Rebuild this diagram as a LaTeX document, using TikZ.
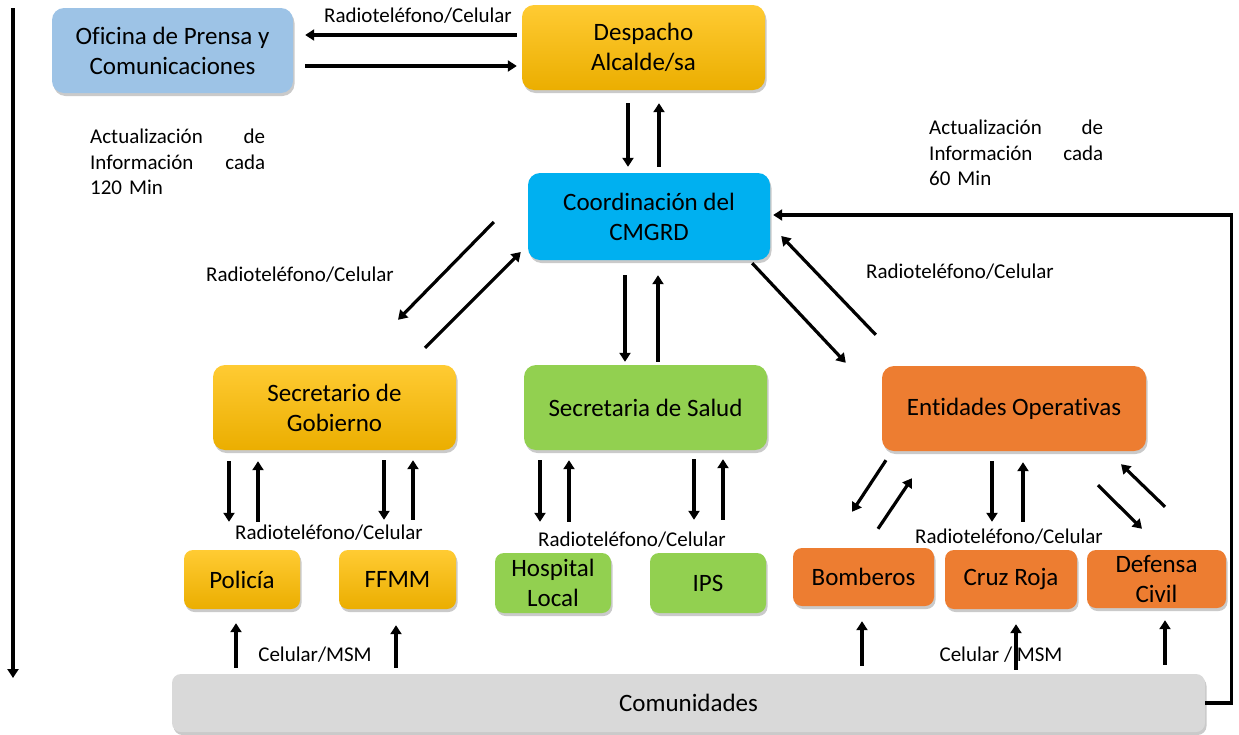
\documentclass[tikz,border=0pt]{standalone}
\usepackage{fontspec}
\setmainfont{Carlito}[Ligatures=NoCommon]
\usepackage{tikz}
\usetikzlibrary{arrows.meta}
\usetikzlibrary{calc}
\usetikzlibrary{shadows}

\definecolor{prensa}{HTML}{9DC3E6}
\definecolor{orotop}{HTML}{FFCB33}
\definecolor{orobot}{HTML}{EBAE00}
\definecolor{celeste}{HTML}{00B0F0}
\definecolor{verde}{HTML}{92D050}
\definecolor{naranja}{HTML}{ED7D31}
\definecolor{gris}{HTML}{D9D9D9}

\begin{document}
\begin{tikzpicture}[x=1pt,y=-1pt,
    caja/.style={rounded corners=12pt, inner sep=0pt, align=center,
        font=\fontsize{25}{30}\selectfont,
        drop shadow={opacity=0.35, fill=black!60, shadow xshift=1.5pt, shadow yshift=-3pt}},
    grande/.style={caja, minimum width=243pt, minimum height=85pt},
    chica/.style={caja, rounded corners=9pt, minimum width=116pt, minimum height=59pt},
    amarilla/.style={top color=orotop, bottom color=orobot},
    flecha/.style={line width=3.2pt, -{Triangle[length=9pt,width=11pt]}},
    etiqueta/.style={font=\fontsize{21}{25.5}\selectfont, inner sep=0pt},
    bloque/.style={etiqueta, text width=175pt, align=left, anchor=north west}]
        \useasboundingbox (0,0) rectangle (1239,734);

        % cajas
        \node[grande, fill=prensa, minimum width=241pt] (ofi) at (172.5,50.5) {Oficina de Prensa y\\Comunicaciones};
        \node[grande, amarilla] (desp) at (643.5,47.5) {Despacho\\Alcalde/sa};
        \node[grande, fill=celeste, minimum width=242pt, minimum height=87pt] (coord) at (649,216.5) {Coordinación del\\CMGRD};
        \node[grande, amarilla] (gob) at (334.5,407.5) {Secretario de\\Gobierno};
        \node[grande, fill=verde] (salud) at (645.5,407.5) {Secretaria de Salud};
        \node[grande, fill=naranja, minimum width=264pt] (ent) at (1014,408.5) {Entidades Operativas};
        \node[chica, amarilla] (pol) at (242,579.5) {Policía};
        \node[chica, amarilla, minimum width=117pt] (ffmm) at (397.5,579.5) {FFMM};
        \node[chica, fill=verde, minimum height=60pt] (hosp) at (553,583) {Hospital\\Local};
        \node[chica, fill=verde, minimum height=60pt] (ips) at (708,583) {IPS};
        \node[chica, fill=naranja, minimum width=141pt, minimum height=58pt] (bomb) at (863.5,577) {Bomberos};
        \node[chica, fill=naranja, minimum width=132pt] (cruz) at (1011,579.5) {Cruz Roja};
        \node[chica, fill=naranja, minimum width=139pt, minimum height=58pt] (def) at (1156.5,579) {Defensa\\Civil};
        \node[caja, fill=gris, rounded corners=9pt, minimum width=1033pt, minimum height=58pt] (com) at (688.5,703) {Comunidades};

        % textos
        \node[etiqueta] (r1) at (418,16) {Radioteléfono/Celular};
        \node[etiqueta] (r2) at (300,275) {Radioteléfono/Celular};
        \node[etiqueta] (r3) at (960,272) {Radioteléfono/Celular};
        \node[etiqueta] (r4) at (329,533) {Radioteléfono/Celular};
        \node[etiqueta] (r5) at (632,540) {Radioteléfono/Celular};
        \node[etiqueta] (r6) at (1009,537) {Radioteléfono/Celular};
        \node[etiqueta] (c1) at (315,655) {Celular/MSM};
        \node[etiqueta] (c2) at (1001,655) {Celular / MSM};
        \node[bloque] (act1) at (90,129) {Actualización\hfill de\\Información\hfill cada\\120 Min};
        \node[bloque, text width=174pt] (act2) at (929,120) {Actualización\hfill de\\Información\hfill cada\\60 Min};

        % despacho - prensa
        \draw[flecha] ($(desp.west)+(-5,-12.5)$) -- ($(ofi.east)+(12,-15.5)$);
        \draw[flecha] ($(ofi.east)+(12,15.5)$) -- ($(desp.west)+(-5,18.5)$);
        % despacho - coordinacion
        \draw[flecha] ($(desp.south)+(-15.5,13)$) -- ($(coord.north)+(-21,-6)$);
        \draw[flecha] ($(coord.north)+(10,-6)$) -- ($(desp.south)+(15.5,13)$);
        % coordinacion - secretarias
        \draw[flecha] ($(coord.west)+(-34,5.5)$) -- ($(gob.north)+(63.5,-45)$);
        \draw[flecha] ($(gob.north)+(90.5,-17)$) -- ($(coord.west)+(-7,35.5)$);
        \draw[flecha] ($(coord.south)+(-24,15)$) -- ($(salud.north)+(-20.5,-3)$);
        \draw[flecha] ($(salud.north)+(12.5,-3)$) -- ($(coord.south)+(9,15)$);
        \draw[flecha] ($(coord.south east)+(-18,3)$) -- ($(ent.north west)+(-36,-3)$);
        \draw[flecha] ($(ent.north west)+(-6,-31)$) -- ($(coord.east)+(11,19.5)$);

        % gobierno
        \draw[flecha] ($(gob.south)+(-105.5,11)$) -- ($(pol.north)+(-13,-28)$);
        \draw[flecha] ($(pol.north)+(16,-28)$) -- ($(gob.south)+(-76.5,11)$);
        \draw[flecha] ($(gob.south)+(49.5,10)$) -- ($(ffmm.north)+(-13.5,-30)$);
        \draw[flecha] ($(ffmm.north)+(15.5,-30)$) -- ($(gob.south)+(78.5,10)$);
        % salud
        \draw[flecha] ($(salud.south)+(-105.5,10)$) -- ($(hosp.north)+(-13,-31)$);
        \draw[flecha] ($(hosp.north)+(16,-31)$) -- ($(salud.south)+(-76.5,10)$);
        \draw[flecha] ($(salud.south)+(48.5,9)$) -- ($(ips.north)+(-14,-33)$);
        \draw[flecha] ($(ips.north)+(15,-33)$) -- ($(salud.south)+(77.5,9)$);
        % entidades
        \draw[flecha] ($(ent.south)+(-128,9)$) -- ($(bomb.north)+(-11.5,-36)$);
        \draw[flecha] ($(bomb.north)+(14.5,-19)$) -- ($(ent.south)+(-102,27)$);
        \draw[flecha] ($(ent.south)+(-22,10)$) -- ($(cruz.north)+(-19,-28)$);
        \draw[flecha] ($(cruz.north)+(12,-28)$) -- ($(ent.south)+(9,11)$);
        \draw[flecha] ($(ent.south)+(84,34)$) -- ($(def.north)+(-14.5,-21)$);
        \draw[flecha] ($(def.north)+(8.5,-43)$) -- ($(ent.south)+(107,13)$);

        % comunidades
        \draw[flecha] ($(pol.south |- com.north)+(-6,-6)$) -- ($(pol.south)+(-6,14)$);
        \draw[flecha] ($(ffmm.south |- com.north)+(-1.5,-6)$) -- ($(ffmm.south)+(-1.5,16)$);
        \draw[flecha] ($(bomb.south |- com.north)+(-1.5,-8)$) -- ($(bomb.south)+(-1.5,15)$);
        \draw[flecha] ($(cruz.south |- com.north)+(5,-4)$) -- ($(cruz.south)+(5,15)$);
        \draw[flecha] ($(def.south |- com.north)+(8.5,-9)$) -- ($(def.south)+(8.5,12)$);
        \draw[flecha] (com.east) -- ++(26,0) |- ($(coord.east)+(3,-1.5)$);

        % tiempo
        \coordinate (t0) at (13,8);
        \coordinate (t1) at (13,678);
        \draw[flecha] (t0) -- (t1);
    \end{tikzpicture}
\end{document}
